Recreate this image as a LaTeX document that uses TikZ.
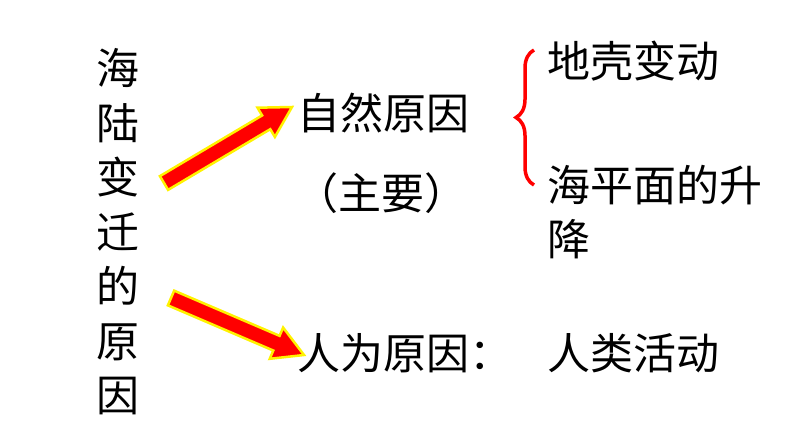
\documentclass[tikz,border=0pt]{standalone}
\usepackage{fontspec}
\newfontfamily\cjk{Noto Sans CJK SC}
\usetikzlibrary{calc,decorations.pathreplacing}
\begin{document}
\begin{tikzpicture}[x=1pt,y=-1pt,
    blockarrow/.style={fill=red, draw=yellow, line width=2.5pt, line join=miter}]
  \useasboundingbox (0,0) rectangle (794,447);

  \begin{scope}[every node/.style={inner sep=0pt, font=\cjk\fontsize{43}{54.5}\selectfont}]
    \node[align=center] (title) at (118,232) {海\\陆\\变\\迁\\的\\原\\因};
    \node[anchor=west] (nature) at (297,113) {自然原因};
    \node (main) at (381,193) {（主要）};
    \node[anchor=west] (human) at (297,353) {人为原因：};
    \node[anchor=west] (crust) at (547,61) {地壳变动};
    \node[anchor=west,align=left] (sea) at (547,212) {海平面的升\\降};
    \node[anchor=west] (activity) at (547,353) {人类活动};
  \end{scope}

  % arrow ends
  \coordinate (nat-s) at (164,183);
  \coordinate (nat-e) at (292,107);
  \coordinate (hum-s) at (171,298);
  \coordinate (hum-e) at (304,355);

  \foreach \s/\e in {nat-s/nat-e, hum-s/hum-e} {
    \coordinate (b) at ($(\e)!30pt!(\s)$);
    \filldraw[blockarrow] ($(\s)!8pt!90:(\e)$) -- ($(b)!8pt!90:(\e)$)
      -- ($(b)!17pt!90:(\e)$) -- (\e) -- ($(b)!17pt!-90:(\e)$)
      -- ($(b)!8pt!-90:(\e)$) -- ($(\s)!8pt!-90:(\e)$) -- cycle;
  }

  % brace
  \coordinate (br-top) at (534,50);
  \coordinate (br-bot) at (534,185);
  \draw[red, line width=3.5pt, decorate, decoration={brace, amplitude=18pt}] (br-bot) -- (br-top);

\end{tikzpicture}
\end{document}
